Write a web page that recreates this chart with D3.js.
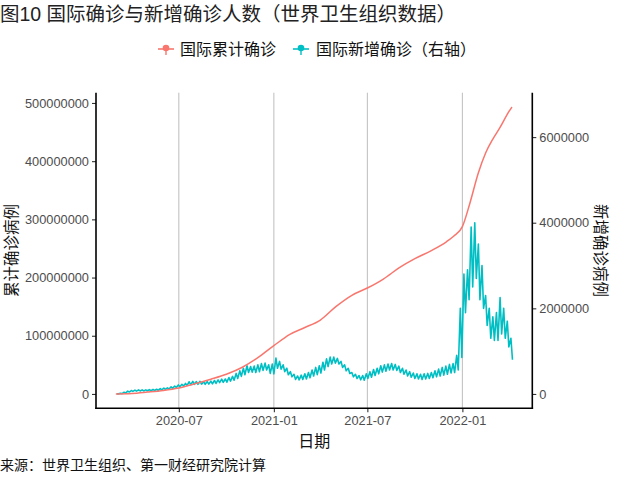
<!DOCTYPE html>
<html><head><meta charset="utf-8">
<script src="https://cdn.jsdelivr.net/npm/d3@7"></script>
<style>body{margin:0;background:#fff}svg{display:block}text{font-family:"Liberation Sans","Noto Sans CJK SC",sans-serif}</style>
</head><body><svg id="c" width="640" height="480"></svg>
<script>
// Cumulative confirmed cases (millions)
const cumDates = ["2020-03-01","2020-04-01","2020-05-01","2020-06-01","2020-07-01","2020-08-01","2020-09-01","2020-10-01","2020-11-01","2020-12-01","2021-01-01","2021-02-01","2021-03-01","2021-04-01","2021-05-01","2021-06-01","2021-07-01","2021-08-01","2021-09-01","2021-10-01","2021-11-01","2021-12-01","2021-12-15","2022-01-01","2022-01-15","2022-02-01","2022-02-15","2022-03-01","2022-03-15","2022-04-01","2022-04-07"];
const cumValues = [0.09,0.82,3.2,6.1,10.4,17.5,25.3,33.8,45.9,62.4,83.0,102.4,113.8,127.0,150.0,169.5,182.0,197.5,217.0,232.5,246.0,261.5,271.0,287.5,326,380,414,438,458,485,493];
// Weekly new cases band (thousands): weekly high and low of daily values, weeks from 2020-03-02
const newWeekStart = "2020-03-02";
const newHigh = [5,15,40,65,80,90,95,95,95,100,105,110,125,135,145,165,185,210,225,245,285,295,290,295,285,290,300,315,330,345,350,385,410,480,540,600,660,640,650,680,710,720,680,700,
 840,760,680,600,520,460,420,440,470,500,560,620,660,740,820,860,860,830,760,680,600,500,460,430,430,470,520,570,600,660,680,700,710,690,650,600,560,520,490,470,460,470,480,500,540,580,620,650,690,710,900,2000,
 2800,2900,3900,4000,3500,3000,2300,2000,1800,1900,2250,2000,1700,1300];
const newLow = [2,8,20,45,60,65,70,70,75,75,80,85,95,105,115,130,150,170,185,200,215,225,225,230,225,230,235,245,265,270,275,300,320,360,410,450,500,510,500,520,550,560,480,470,
 600,580,520,450,400,340,330,340,350,380,420,450,490,560,640,700,720,700,620,540,480,400,360,330,320,360,390,430,470,510,530,560,560,550,500,460,420,390,360,350,340,350,360,380,400,420,440,460,490,500,560,850,
 1900,2200,2500,2700,2200,2000,1600,1300,1250,1250,1400,1300,1100,800];
const secAxisFactor = 73.56; // primary units per secondary unit
const leftTicks = [0,100e6,200e6,300e6,400e6,500e6];
const rightTicks = [0,2e6,4e6,6e6];
const xTickLabels = ["2020-07","2021-01","2021-07","2022-01"];
const seriesNames = ["国际累计确诊","国际新增确诊（右轴）"];
const colors = ["#F8766D","#00BFC4"];

const parse = d3.timeParse("%Y-%m-%d"), parseM = d3.timeParse("%Y-%m");
const cum = cumDates.map((d,i)=>({date:parse(d), v:cumValues[i]*1e6}));
const ws = parse(newWeekStart);
const newPts = [];
newHigh.forEach((h,i)=>{
  const w = d3.timeDay.offset(ws, 7*i);
  newPts.push({date:d3.timeDay.offset(w,1), v:h*1e3});
  newPts.push({date:d3.timeDay.offset(w,4), v:newLow[i]*1e3});
});

const svg = d3.select("#c");
const L=96, R=532.3, T=92.7, B=408.3;
const allDates = cum.map(d=>d.date).concat(newPts.map(d=>d.date));
const [x0,x1] = d3.extent(allDates);
const xpad = (x1-x0)*0.05;
const x = d3.scaleTime().domain([new Date(+x0-xpad), new Date(+x1+xpad)]).range([L,R]);
const ymax = Math.max(d3.max(cum,d=>d.v), d3.max(newPts,d=>d.v)*secAxisFactor);
const yL = d3.scaleLinear().domain([-0.05*ymax, 1.05*ymax]).range([B,T]);
const yR = d3.scaleLinear().domain(yL.domain().map(v=>v/secAxisFactor)).range([B,T]);

// grid
const xt = xTickLabels.map(s=>parseM(s));
svg.append("g").selectAll("line").data(xt).join("line")
  .attr("x1",d=>x(d)).attr("x2",d=>x(d)).attr("y1",T).attr("y2",B)
  .attr("stroke","#bdbdbd").attr("stroke-width",1);

// lines
svg.append("path").datum(newPts).attr("fill","none").attr("stroke",colors[1]).attr("stroke-width",1.6)
  .attr("stroke-linejoin","round")
  .attr("d", d3.line().x(d=>x(d.date)).y(d=>yR(d.v)));
svg.append("path").datum(cum).attr("fill","none").attr("stroke",colors[0]).attr("stroke-width",1.5)
  .attr("d", d3.line().curve(d3.curveMonotoneX).x(d=>x(d.date)).y(d=>yL(d.v)));

// axes
const fmt = d3.format("d");
const axL = svg.append("g").attr("transform",`translate(${L},0)`)
  .call(d3.axisLeft(yL).tickValues(leftTicks).tickFormat(fmt).tickSizeOuter(0).tickSize(4).tickPadding(3));
const axR = svg.append("g").attr("transform",`translate(${R},0)`)
  .call(d3.axisRight(yR).tickValues(rightTicks).tickFormat(fmt).tickSizeOuter(0).tickSize(4).tickPadding(3));
const axB = svg.append("g").attr("transform",`translate(0,${B})`)
  .call(d3.axisBottom(x).tickValues(xt).tickFormat(d3.timeFormat("%Y-%m")).tickSizeOuter(0).tickSize(4).tickPadding(4));
[axL,axR,axB].forEach(a=>{
  a.select(".domain").remove();
  a.selectAll(".tick line").attr("stroke","#333").attr("stroke-width",1.1);
  a.selectAll(".tick text").attr("fill","#4d4d4d").style("font-size","12.8px");
});
svg.append("line").attr("x1",L).attr("x2",L).attr("y1",T).attr("y2",B+0.8).attr("stroke","#000").attr("stroke-width",1.6);
svg.append("line").attr("x1",R).attr("x2",R).attr("y1",T).attr("y2",B+0.8).attr("stroke","#000").attr("stroke-width",1.6);
svg.append("line").attr("x1",L-0.8).attr("x2",R+0.8).attr("y1",B).attr("y2",B).attr("stroke","#000").attr("stroke-width",1.6);

// titles
const cjk = '"Noto Sans CJK SC",sans-serif';
svg.append("text").attr("x",0).attr("y",21).style("font-size","19.5px").attr("fill","#222")
  .text("图10 国际确诊与新增确诊人数（世界卫生组织数据）");
svg.append("text").attr("transform",`translate(17,${(T+B)/2}) rotate(-90)`).attr("text-anchor","middle")
  .style("font-size","15.5px").style("font-family",cjk).attr("fill","#111").text("累计确诊病例");
svg.append("text").attr("transform",`translate(595,${(T+B)/2}) rotate(90)`).attr("text-anchor","middle")
  .style("font-size","15.5px").style("font-family",cjk).attr("fill","#111").text("新增确诊病例");
svg.append("text").attr("x",(L+R)/2).attr("y",447).attr("text-anchor","middle")
  .style("font-size","16px").style("font-family",cjk).attr("fill","#111").text("日期");
svg.append("text").attr("x",0).attr("y",470).style("font-size","14px").style("font-family",cjk).attr("fill","#111")
  .text("来源：世界卫生组织、第一财经研究院计算");

// legend
const lg = svg.append("g");
const keyX = [166, 301], txtX = [180, 316];
seriesNames.forEach((n,i)=>{
  lg.append("line").attr("x1",keyX[i]-8).attr("x2",keyX[i]+8).attr("y1",49).attr("y2",49)
    .attr("stroke",colors[i]).attr("stroke-width",1.6);
  lg.append("circle").attr("cx",keyX[i]).attr("cy",48).attr("r",3.3).attr("fill",colors[i]);
  lg.append("line").attr("x1",keyX[i]).attr("x2",keyX[i]).attr("y1",49).attr("y2",55)
    .attr("stroke",colors[i]).attr("stroke-width",1.4);
  lg.append("text").attr("x",txtX[i]).attr("y",55).style("font-size","16px").style("font-family",cjk)
    .attr("fill","#111").text(n);
});
</script></body></html>
